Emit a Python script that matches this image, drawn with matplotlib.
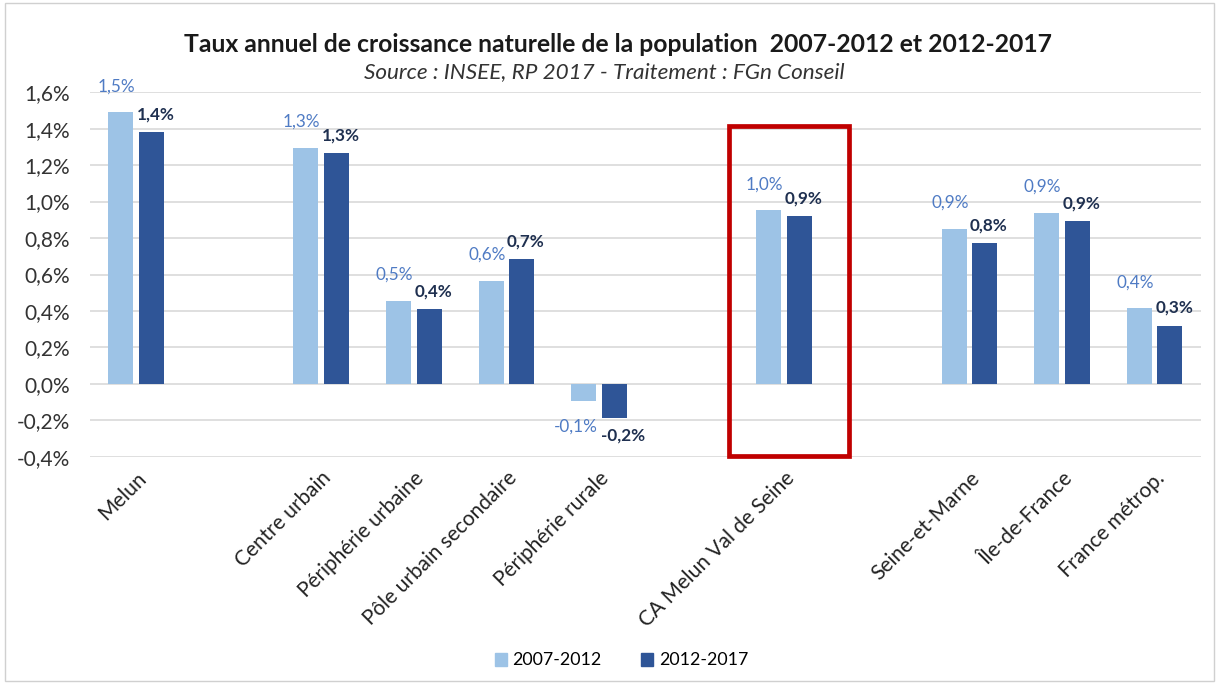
import numpy as np
import matplotlib
matplotlib.use("Agg")
import matplotlib.pyplot as plt
from matplotlib.patches import Rectangle, Patch

plt.rcParams['font.family'] = ['Lato', 'DejaVu Sans']

# categories ('' = empty slot on the axis)
categories = ['Melun', '', 'Centre urbain', 'Périphérie urbaine', 'Pôle urbain secondaire',
              'Périphérie rurale', '', 'CA Melun Val de Seine', '', 'Seine-et-Marne',
              'Île-de-France', 'France métrop.']
serie_2007 = [1.49, None, 1.295, 0.455, 0.564, -0.093, None, 0.952, None, 0.852, 0.94, 0.415]
serie_2012 = [1.38, None, 1.264, 0.409, 0.683, -0.188, None, 0.922, None, 0.771, 0.893, 0.32]
series_names = ['2007-2012', '2012-2017']
yticks = [-0.4, -0.2, 0.0, 0.2, 0.4, 0.6, 0.8, 1.0, 1.2, 1.4, 1.6]
highlight = 'CA Melun Val de Seine'

c_light = '#9DC3E6'
c_dark = '#2F5597'
lab_light = '#4F7BC4'
lab_dark = '#1F3050'

def fmt(v):
    return f"{v:.1f}".replace('.', ',') + '%'

fig = plt.figure(figsize=(12.28, 6.88), dpi=100)
ax = fig.add_axes([0.073, 0.336, 0.905, 0.53])

x = np.arange(len(categories))
v1 = np.array([np.nan if v is None else v for v in serie_2007])
v2 = np.array([np.nan if v is None else v for v in serie_2012])
w = 0.27
off = 0.165
ax.bar(x - off, v1, w, color=c_light, zorder=3)
ax.bar(x + off, v2, w, color=c_dark, zorder=3)

for xi, a, b in zip(x, v1, v2):
    if np.isnan(a):
        continue
    for val, dx, px, col, wt, dy in [(a, -off, -3, lab_light, 'normal', 13),
                                     (b, off, 3, lab_dark, 'bold', 7)]:
        sign = 1 if val >= 0 else -1
        if sign < 0:
            px = px * 2
        ax.annotate(fmt(val), (xi + dx, val), xytext=(px, sign * dy), textcoords='offset points',
                    ha='center', va='bottom' if sign > 0 else 'top',
                    fontsize=12.3, color=col, fontweight=wt)

ax.set_xlim(-0.5, len(categories) - 0.5)
ax.set_ylim(-0.4, 1.6)
ax.set_yticks(yticks)
ax.set_yticklabels([fmt(t) for t in yticks], fontsize=15, color='#333333')
ax.tick_params(axis='y', length=0, pad=14)
ax.set_xticks(x)
ax.set_xticklabels(categories, rotation=45, ha='right', rotation_mode='anchor',
                   fontsize=15, color='#222222')
ax.tick_params(axis='x', length=0, pad=8)
ax.grid(axis='y', color='#D9D9D9', linewidth=1.2, zorder=0)
for s in ax.spines.values():
    s.set_visible(False)

# red frame around CA Melun Val de Seine
i = categories.index(highlight)
ax.add_patch(Rectangle((i - 0.6, -0.393), 1.3, 1.805, fill=False, edgecolor='#C00000',
                       linewidth=3.4, clip_on=False, zorder=5))

fig.text(0.503, 0.935, 'Taux annuel de croissance naturelle de la population  2007-2012 et 2012-2017',
         ha='center', va='center', fontsize=17.8, fontweight='bold', color='#1a1a1a')
fig.text(0.492, 0.895, 'Source : INSEE, RP 2017 - Traitement : FGn Conseil',
         ha='center', va='center', fontsize=16.2, style='italic', color='#333333')

handles = [Patch(color=c_light), Patch(color=c_dark)]
fig.legend(handles, series_names, loc='center', bbox_to_anchor=(0.506, 0.04), ncol=2,
           frameon=False, fontsize=12.8, handlelength=0.7, handleheight=0.8,
           handletextpad=0.3, columnspacing=2.2)

fig.add_artist(Rectangle((0.004, 0.01), 0.985, 0.985, transform=fig.transFigure,
                         fill=False, edgecolor='#D0D0D0', linewidth=1))

fig.savefig('out.png', dpi=100)
